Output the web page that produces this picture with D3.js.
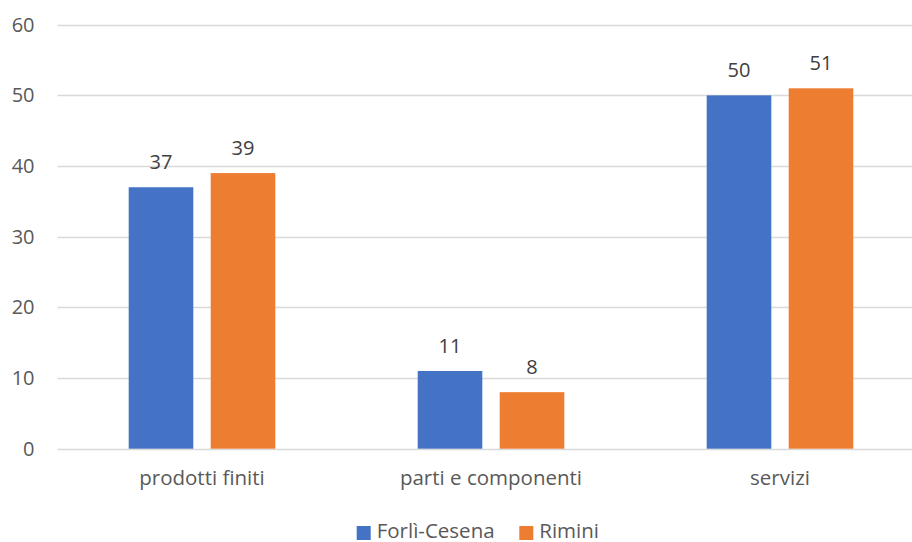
<!DOCTYPE html>
<html>
<head>
<meta charset="utf-8">
<script src="https://cdn.jsdelivr.net/npm/d3@7"></script>
<style>
  html, body { margin: 0; padding: 0; background: #fff; }
  svg { display: block; font-family: "Open Sans", "Segoe UI", sans-serif; }
</style>
</head>
<body>
<svg id="chart" width="912" height="542"></svg>
<script>
// Chart data
const categories = ["prodotti finiti", "parti e componenti", "servizi"];
const seriesNames = ["Forlì-Cesena", "Rimini"];
const forliCesena = [37, 11, 50];
const rimini = [39, 8, 51];
const yTicks = [0, 10, 20, 30, 40, 50, 60];
const colors = ["#4472C4", "#ED7D31"];

const seriesValues = [forliCesena, rimini];

const svg = d3.select("#chart");
const W = 912, H = 542;

const y = d3.scaleLinear().domain([0, 60]).range([448.7, 24.7]);
const x0 = d3.scaleBand().domain(categories).range([57.5, 924.5]);
const x1 = d3.scaleBand().domain(seriesNames).range([-73.3, 73.3]).paddingInner(0.212);

// Gridlines
svg.append("g")
  .selectAll("line")
  .data(yTicks)
  .join("line")
  .attr("x1", 57.5).attr("x2", W)
  .attr("y1", d => Math.round(y(d)) + 0.5)
  .attr("y2", d => Math.round(y(d)) + 0.5)
  .attr("stroke", "#d9d9d9")
  .attr("stroke-width", 1.3);

// Y tick labels
svg.append("g")
  .selectAll("text")
  .data(yTicks)
  .join("text")
  .attr("x", 34.5)
  .attr("y", d => y(d))
  .attr("dy", "0.35em")
  .attr("text-anchor", "end")
  .attr("fill", "#595959")
  .attr("font-size", 20)
  .text(d => d);

// Bars and value labels
const groups = svg.append("g")
  .selectAll("g")
  .data(categories)
  .join("g")
  .attr("transform", c => `translate(${x0(c) + x0.bandwidth() / 2},0)`);

const cells = groups.selectAll("g")
  .data((c, i) => seriesNames.map((s, j) => ({ s, j, v: seriesValues[j][i] })))
  .join("g");

cells.append("rect")
  .attr("x", d => x1(d.s))
  .attr("width", x1.bandwidth())
  .attr("y", d => y(d.v))
  .attr("height", d => y(0) - y(d.v))
  .attr("fill", d => colors[d.j]);

cells.append("text")
  .attr("x", d => x1(d.s) + x1.bandwidth() / 2)
  .attr("y", d => y(d.v) - 18)
  .attr("text-anchor", "middle")
  .attr("fill", "#404040")
  .attr("font-size", 20)
  .text(d => d.v);

// Category labels
svg.append("g")
  .selectAll("text")
  .data(categories)
  .join("text")
  .attr("x", c => x0(c) + x0.bandwidth() / 2)
  .attr("y", 484.5)
  .attr("text-anchor", "middle")
  .attr("fill", "#595959")
  .attr("font-size", 20.5)
  .text(c => c);

// Legend
const legendItems = [
  { name: seriesNames[0], color: colors[0], x: 356.7 },
  { name: seriesNames[1], color: colors[1], x: 519.3 }
];
const legend = svg.append("g");
legend.selectAll("rect")
  .data(legendItems)
  .join("rect")
  .attr("x", d => d.x)
  .attr("y", 526)
  .attr("width", 14)
  .attr("height", 14)
  .attr("fill", d => d.color);
legend.selectAll("text")
  .data(legendItems)
  .join("text")
  .attr("x", d => d.x + 20)
  .attr("y", 537.5)
  .attr("fill", "#595959")
  .attr("font-size", 20.5)
  .text(d => d.name);
</script>
</body>
</html>
